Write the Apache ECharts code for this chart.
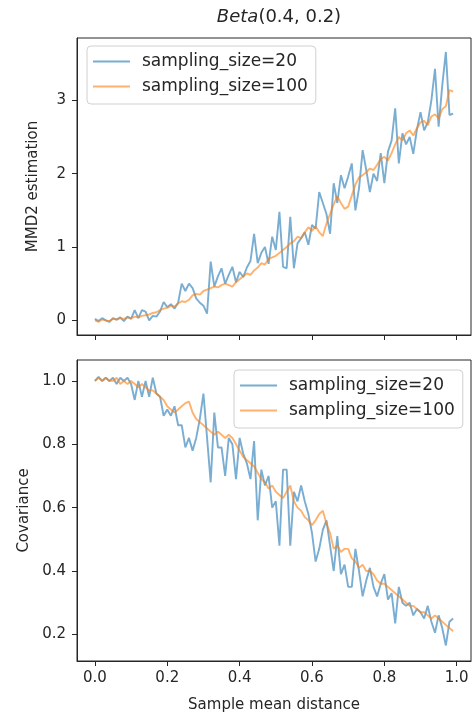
<!DOCTYPE html>
<html>
<head>
<meta charset="utf-8">
<script src="https://cdn.jsdelivr.net/npm/echarts@6/dist/echarts.min.js"></script>
<style>
html,body{margin:0;padding:0;background:#fff;}
#chart{width:472px;height:714px;}
</style>
</head>
<body>
<div id="chart"></div>
<script>
const distance = [0.00,0.01,0.02,0.03,0.04,0.05,0.06,0.07,0.08,0.09,
0.10,0.11,0.12,0.13,0.14,0.15,0.16,0.17,0.18,0.19,
0.20,0.21,0.22,0.23,0.24,0.25,0.26,0.27,0.28,0.29,
0.30,0.31,0.32,0.33,0.34,0.35,0.36,0.37,0.38,0.39,
0.40,0.41,0.42,0.43,0.44,0.45,0.46,0.47,0.48,0.49,
0.50,0.51,0.52,0.53,0.54,0.55,0.56,0.57,0.58,0.59,
0.60,0.61,0.62,0.63,0.64,0.65,0.66,0.67,0.68,0.69,
0.70,0.71,0.72,0.73,0.74,0.75,0.76,0.77,0.78,0.79,
0.80,0.81,0.82,0.83,0.84,0.85,0.86,0.87,0.88,0.89,
0.90,0.91,0.92,0.93,0.94,0.95,0.96,0.97,0.98,0.99];

const seriesNames = ['sampling_size=20', 'sampling_size=100'];

const mmdSize20 = [0.02,-0.01,0.03,0.00,-0.02,0.03,0.01,0.04,-0.01,0.05,
0.02,0.14,0.03,0.14,0.12,0.00,0.06,0.05,0.12,0.25,
0.18,0.22,0.16,0.24,0.50,0.40,0.50,0.44,0.30,0.24,
0.20,0.09,0.80,0.46,0.60,0.71,0.50,0.62,0.73,0.52,
0.66,0.59,0.72,0.81,1.18,0.78,0.92,1.00,0.77,1.14,
0.96,1.48,0.73,0.71,1.41,0.71,1.05,1.12,1.20,1.03,
1.30,1.25,1.75,1.60,1.45,1.18,1.87,1.60,1.98,1.80,
1.96,2.14,1.50,1.80,2.32,2.05,1.75,2.00,1.90,2.28,
1.87,2.30,2.45,2.89,2.14,2.55,2.40,2.50,2.27,2.60,
2.84,2.59,2.70,3.00,3.43,2.64,3.20,3.66,2.80,2.82];

const mmdSize100 = [0.00,-0.02,0.01,0.00,-0.01,0.02,0.01,0.03,0.02,0.04,
0.03,0.05,0.04,0.06,0.07,0.08,0.10,0.11,0.14,0.16,
0.17,0.20,0.19,0.23,0.26,0.25,0.28,0.34,0.36,0.35,
0.40,0.42,0.44,0.46,0.45,0.48,0.50,0.48,0.46,0.52,
0.56,0.60,0.64,0.62,0.68,0.72,0.78,0.76,0.84,0.86,
0.88,0.92,0.96,1.00,1.05,1.08,1.14,1.12,1.20,1.27,
1.22,1.28,1.20,1.15,1.32,1.45,1.58,1.69,1.60,1.52,
1.55,1.70,1.85,1.95,1.98,2.02,2.07,2.05,2.12,2.20,
2.23,2.18,2.28,2.40,2.50,2.45,2.55,2.59,2.52,2.62,
2.70,2.72,2.66,2.78,2.81,2.75,2.88,2.92,3.14,3.12];

const covSize20 = [1.00,1.013,1.00,1.01,1.00,1.01,0.99,1.01,1.00,1.01,
0.99,0.94,1.00,0.95,1.00,0.95,1.01,0.96,0.95,0.89,
0.91,0.89,0.92,0.86,0.86,0.79,0.82,0.78,0.82,0.88,
0.96,0.82,0.68,0.90,0.79,0.79,0.70,0.82,0.80,0.69,
0.82,0.77,0.74,0.69,0.81,0.56,0.72,0.67,0.70,0.60,
0.62,0.48,0.72,0.72,0.48,0.65,0.62,0.67,0.62,0.58,
0.52,0.43,0.47,0.53,0.56,0.48,0.40,0.51,0.39,0.42,
0.35,0.35,0.47,0.40,0.32,0.37,0.41,0.35,0.32,0.36,
0.39,0.31,0.33,0.235,0.35,0.30,0.29,0.30,0.26,0.28,
0.27,0.25,0.29,0.24,0.205,0.26,0.22,0.165,0.24,0.25];

const covSize100 = [1.00,1.01,1.00,1.01,1.00,1.00,1.01,0.99,1.00,0.99,
1.00,0.99,0.98,0.99,0.98,0.97,0.97,0.96,0.95,0.94,
0.92,0.91,0.90,0.91,0.92,0.93,0.935,0.90,0.88,0.87,
0.86,0.85,0.84,0.83,0.84,0.83,0.82,0.83,0.82,0.80,
0.78,0.76,0.75,0.74,0.73,0.71,0.69,0.68,0.66,0.67,
0.65,0.64,0.63,0.65,0.67,0.62,0.60,0.59,0.57,0.56,
0.545,0.56,0.58,0.59,0.55,0.52,0.47,0.48,0.46,0.47,
0.47,0.44,0.43,0.41,0.42,0.40,0.40,0.39,0.37,0.36,
0.36,0.35,0.34,0.33,0.32,0.31,0.30,0.29,0.29,0.28,
0.27,0.27,0.26,0.25,0.26,0.25,0.24,0.23,0.22,0.21];

const xTicks = [0.0, 0.2, 0.4, 0.6, 0.8, 1.0];
const mmdTicks = [0, 1, 2, 3];
const covTicks = [0.2, 0.4, 0.6, 0.8, 1.0];

function pairs(ys) { return distance.map((x, i) => [x, ys[i]]); }

const FONT = 'DejaVu Sans';
const BLUE = '#1f77b4';
const ORANGE = '#ff7f0e';
const INK = '#262626';

const chart = echarts.init(document.getElementById('chart'), null, {renderer: 'canvas'});

function xAxisCfg(gridIndex, showLabels) {
  return {
    type: 'value', gridIndex: gridIndex, min: -0.0495, max: 1.0395,
    splitLine: {show: false},
    axisLine: {show: true, onZero: false, lineStyle: {color: INK, width: 1}},
    axisTick: {show: true, length: 5, inside: false, customValues: xTicks, lineStyle: {color: INK}},
    axisLabel: {show: showLabels, customValues: xTicks, margin: 10, color: INK, fontFamily: FONT, fontSize: 15,
      formatter: v => v.toFixed(1)},
    name: showLabels ? 'Sample mean distance' : '',
    nameLocation: 'middle', nameGap: 37,
    nameTextStyle: {color: INK, fontFamily: FONT, fontSize: 15}
  };
}

function legendCfg(left, top) {
  return {
    left: left, top: top, orient: 'vertical',
    data: seriesNames,
    icon: 'rect',
    itemWidth: 37, itemHeight: 2, itemGap: 6,
    itemStyle: {opacity: 0.6},
    padding: [6, 8, 8, 6],
    backgroundColor: 'rgba(255,255,255,0.85)',
    borderColor: '#d0d0d0', borderWidth: 1, borderRadius: 4,
    textStyle: {color: INK, fontFamily: FONT, fontSize: 17, lineHeight: 19, padding: [0, 0, 0, 7]},
    selectedMode: false
  };
}

const option = {
  backgroundColor: '#fff',
  animation: false,
  title: {
    text: '{i|Beta}(0.4, 0.2)',
    left: 274, top: 3, textAlign: 'center',
    textStyle: {color: INK, fontFamily: FONT, fontSize: 18, fontWeight: 'normal',
      rich: {i: {fontStyle: 'italic', fontFamily: FONT, fontSize: 18, color: INK}}}
  },
  legend: [legendCfg(87, 46), legendCfg(234, 370)],
  grid: [
    {left: 77, top: 38, width: 394, height: 297, show: true, borderColor: INK, borderWidth: 1, backgroundColor: 'transparent'},
    {left: 77, top: 360, width: 394, height: 301, show: true, borderColor: INK, borderWidth: 1, backgroundColor: 'transparent'}
  ],
  xAxis: [xAxisCfg(0, false), xAxisCfg(1, true)],
  yAxis: [
    {type: 'value', gridIndex: 0, min: -0.2, max: 3.85,
      splitLine: {show: false},
      axisLine: {show: true, onZero: false, lineStyle: {color: INK}},
      axisTick: {show: true, length: 5, customValues: mmdTicks, lineStyle: {color: INK}},
      axisLabel: {customValues: mmdTicks, margin: 11, color: INK, fontFamily: FONT, fontSize: 15, formatter: v => String(Math.round(v))},
      name: 'MMD2 estimation', nameLocation: 'middle', nameGap: 36, nameRotate: 90,
      nameTextStyle: {color: INK, fontFamily: FONT, fontSize: 15}},
    {type: 'value', gridIndex: 1, min: 0.116, max: 1.066,
      splitLine: {show: false},
      axisLine: {show: true, onZero: false, lineStyle: {color: INK}},
      axisTick: {show: true, length: 5, customValues: covTicks, lineStyle: {color: INK}},
      axisLabel: {customValues: covTicks, margin: 11, color: INK, fontFamily: FONT, fontSize: 15, formatter: v => v.toFixed(1)},
      name: 'Covariance', nameLocation: 'middle', nameGap: 36, nameRotate: 90,
      nameTextStyle: {color: INK, fontFamily: FONT, fontSize: 15}}
  ],
  series: [
    {name: seriesNames[0], type: 'line', xAxisIndex: 0, yAxisIndex: 0, data: pairs(mmdSize20),
      symbol: 'none', color: BLUE, lineStyle: {color: BLUE, width: 1.9, opacity: 0.6}},
    {name: seriesNames[1], type: 'line', xAxisIndex: 0, yAxisIndex: 0, data: pairs(mmdSize100),
      symbol: 'none', color: ORANGE, lineStyle: {color: ORANGE, width: 1.9, opacity: 0.6}},
    {name: seriesNames[0], type: 'line', xAxisIndex: 1, yAxisIndex: 1, data: pairs(covSize20),
      symbol: 'none', color: BLUE, lineStyle: {color: BLUE, width: 1.9, opacity: 0.6}},
    {name: seriesNames[1], type: 'line', xAxisIndex: 1, yAxisIndex: 1, data: pairs(covSize100),
      symbol: 'none', color: ORANGE, lineStyle: {color: ORANGE, width: 1.9, opacity: 0.6}}
  ]
};
chart.setOption(option);
</script>
</body>
</html>
